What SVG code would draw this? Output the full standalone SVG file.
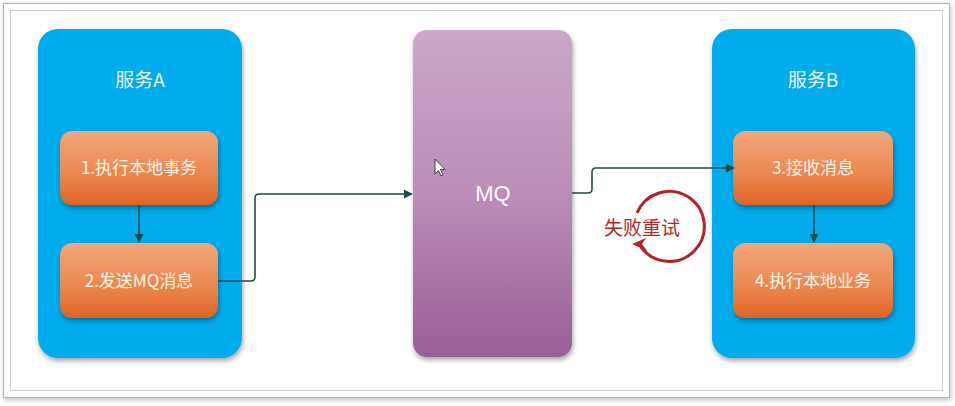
<svg xmlns="http://www.w3.org/2000/svg" width="955" height="406" viewBox="0 0 955 406">
<defs>
<style>
.svc{fill:#03acec;filter:url(#sh);}
.step{fill:url(#og);filter:url(#sh);}
.title{font-family:"Noto Sans CJK SC","Liberation Sans",sans-serif;font-size:19px;fill:#e6f6ff;text-anchor:middle;}
.lbl{font-family:"Noto Sans CJK SC","Liberation Sans",sans-serif;font-size:17px;fill:#fff3ea;text-anchor:middle;}
.conn{fill:none;stroke:#1e4a48;stroke-width:1.6;stroke-linejoin:round;}
</style>
<linearGradient id="og" x1="0" y1="0" x2="0" y2="1">
<stop offset="0" stop-color="#f2a77c"/>
<stop offset="0.55" stop-color="#ea8a52"/>
<stop offset="1" stop-color="#e06424"/>
</linearGradient>
<linearGradient id="pg" x1="0" y1="0" x2="0" y2="1">
<stop offset="0" stop-color="#cca7ca"/>
<stop offset="0.5" stop-color="#bb8db8"/>
<stop offset="1" stop-color="#9a5e98"/>
</linearGradient>
<filter id="sh" x="-20%" y="-20%" width="140%" height="140%">
<feDropShadow dx="1" dy="3" stdDeviation="2.5" flood-color="#000" flood-opacity="0.35"/>
</filter>
<filter id="fsh" x="-5%" y="-5%" width="110%" height="110%">
<feDropShadow dx="1" dy="2" stdDeviation="2" flood-color="#000" flood-opacity="0.25"/>
</filter>
<marker id="ah" viewBox="0 0 10 10" refX="9" refY="5" markerWidth="9" markerHeight="9" markerUnits="userSpaceOnUse" orient="auto">
<path d="M0,0 L10,5 L0,10 z" fill="#1e4a48"/>
</marker>
</defs>
<rect x="0" y="0" width="955" height="406" fill="#ffffff"/>
<rect x="3.5" y="3.5" width="946" height="394" fill="#ffffff" stroke="#b4b4b4" stroke-width="1.2" filter="url(#fsh)"/>
<rect x="10.5" y="10.5" width="932" height="380" fill="#ffffff" stroke="#cfcfcf" stroke-width="1"/>

<g id="serviceA">
<rect class="svc" x="38" y="29" width="204" height="329" rx="20"/>
<text class="title" x="140" y="87">服务A</text>
</g>
<g id="step1">
<rect class="step" x="60" y="131" width="158" height="74" rx="12"/>
<text class="lbl" x="139" y="174">1.执行本地事务</text>
</g>
<g id="step2">
<rect class="step" x="60" y="243" width="158" height="75" rx="12"/>
<text class="lbl" x="139" y="287">2.发送MQ消息</text>
</g>
<g id="mq">
<rect x="413" y="30" width="159" height="327" rx="14" fill="url(#pg)" filter="url(#sh)"/>
<text x="493" y="201" font-family="Liberation Sans, sans-serif" font-size="22" fill="#ffffff" text-anchor="middle">MQ</text>
</g>
<g id="serviceB">
<rect class="svc" x="712" y="29" width="203" height="329" rx="20"/>
<text class="title" x="813" y="87">服务B</text>
</g>
<g id="step3">
<rect class="step" x="733" y="131" width="160" height="74" rx="12"/>
<text class="lbl" x="813" y="174">3.接收消息</text>
</g>
<g id="step4">
<rect class="step" x="733" y="243" width="160" height="75" rx="12"/>
<text class="lbl" x="813" y="287">4.执行本地业务</text>
</g>

<g id="connectors">
<path class="conn" d="M139,205 L139,242" marker-end="url(#ah)"/>
<path class="conn" d="M218,281 L251,281 Q255,281 255,277 L255,198 Q255,194 259,194 L412,194" marker-end="url(#ah)"/>
<path class="conn" d="M572,193 L588,193 Q592,193 592,189 L592,172 Q592,168 596,168 L734,168" marker-end="url(#ah)"/>
<path class="conn" d="M814,205 L814,242" marker-end="url(#ah)"/>
</g>

<g id="retry">
<path d="M637,213 A35,35 0 1 1 641,247" fill="none" stroke="#b0242a" stroke-width="3"/>
<path d="M632,244 L646,238 L642,244 L647,251 Z" fill="#b0242a"/>
<text x="642" y="235" font-family="Noto Sans CJK SC, sans-serif" font-size="19" fill="#b0282e" text-anchor="middle">失败重试</text>
</g>

<g id="cursor">
<path d="M435,159 L435,174 L438.5,170.5 L441,176 L443,175 L440.5,169.5 L445,169.5 Z" fill="#ffffff" stroke="#333333" stroke-width="0.9" stroke-linejoin="round"/>
</g>
</svg>
